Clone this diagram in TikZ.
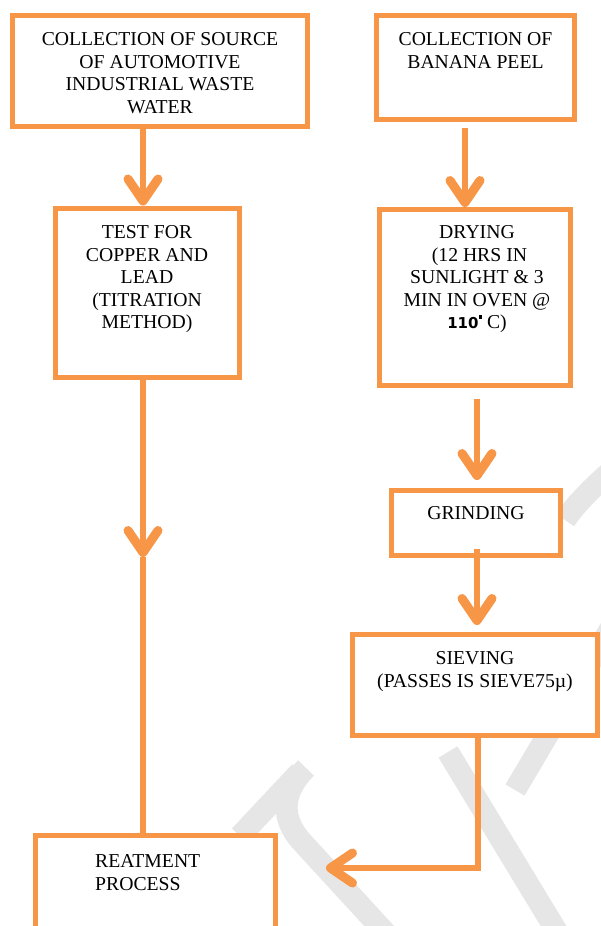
\documentclass[tikz,border=0pt]{standalone}
\usepackage{fontspec}
\setmainfont{Liberation Serif}
\newfontfamily\sansb{DejaVu Sans}
\usetikzlibrary{arrows.meta}
\definecolor{org}{HTML}{F79646}
\definecolor{wmgray}{HTML}{E6E6E6}
\newcommand\topstrut{\rule{0pt}{15pt}}
\tikzset{
 box/.style={draw=org, line width=5pt, inner sep=0pt, fill=white},
 txt/.style={font=\fontsize{19.7}{22.5}\selectfont, align=center, inner sep=0pt, anchor=north, text=black},
 conn/.style={draw=org, line width=6.5pt, -{Straight Barb[length=22pt, width=30pt, line width'=9pt, round]}},
 plainline/.style={draw=org, line width=6.5pt},
 wm/.style={draw=wmgray, line width=22pt, line cap=butt},
}
\begin{document}
\begin{tikzpicture}[x=1pt,y=-1pt]
\useasboundingbox (0,0) rectangle (600,926);
\fill[white] (0,0) rectangle (600,926);
% faint watermark bands
\draw[wm] (306,768) .. controls (282,792) and (280,818) .. (302,842) -- (392,940);
\draw[wm] (300,772) -- (240,836);
\draw[wm] (448,752) -- (562,940);
\draw[wm] (612,626) -- (515,790);
\draw[wm] (612,470) .. controls (590,490) and (575,505) .. (565,520);
% boxes
\node[box, minimum width=295pt, minimum height=111.5pt] (b1) at (160,70.75) {};
\node[box, minimum width=198pt, minimum height=104.5pt] (b2) at (475.5,67.25) {};
\node[box, minimum width=184pt, minimum height=169.5pt] (test) at (147,292.75) {};
\node[box, minimum width=191pt, minimum height=175.5pt] (dry) at (475,297.25) {};
\node[box, minimum width=169pt, minimum height=65pt] (grind) at (476,523) {};
\node[box, minimum width=245pt, minimum height=100.5pt] (sieve) at (475,684.75) {};
\node[box, minimum width=240pt, minimum height=99pt] (reat) at (155.5,885) {};
% texts
\node[txt] (t1) at (160,30.5) {\topstrut COLLECTION OF SOURCE\\OF AUTOMOTIVE\\INDUSTRIAL WASTE\\WATER};
\node[txt] (t2) at (475.5,30.5) {\topstrut COLLECTION OF\\BANANA PEEL};
\node[txt] (t3) at (147,223.5) {\topstrut TEST FOR\\COPPER AND\\LEAD\\(TITRATION\\METHOD)};
\node[txt] (t4) at (477,223.5) {\topstrut DRYING\\ \ (12 HRS IN\\SUNLIGHT \& 3\\MIN IN OVEN @\\{\sansb\bfseries\fontsize{15}{15}\selectfont 110}\raisebox{10pt}{\rule{3.5pt}{3.5pt}} C)};
\node[txt] (t5) at (476,504.5) {\topstrut GRINDING};
\node[txt] (t6) at (475,649.5) {\topstrut SIEVING\\(PASSES IS SIEVE75µ)};
\node[txt, anchor=north west, align=left] (t7) at (95,852.5) {\topstrut REATMENT\\PROCESS};
% connectors
\coordinate (xa) at (143,0);
\coordinate (xb) at (465,0);
\coordinate (xc) at (477,0);
\coordinate (xd) at (478,0);
\coordinate (m1) at (143,557);
\coordinate (m2) at (326,868);
\draw[conn] (b1.south -| xa) -- (test.north -| xa);
\draw[conn, shorten <=6pt] (b2.south -| xb) -- (dry.north -| xb);
\draw[conn, shorten <=11pt, shorten >=8pt] (dry.south -| xc) -- (grind.north -| xc);
\draw[conn, shorten <=-9pt, shorten >=7pt] (grind.south -| xc) -- (sieve.north -| xc);
\draw[conn] (test.south -| xa) -- (m1);
\draw[plainline] (m1) -- (reat.north -| xa);
\draw[conn, line width=6pt] (sieve.south -| xd) |- (m2);
\end{tikzpicture}
\end{document}
